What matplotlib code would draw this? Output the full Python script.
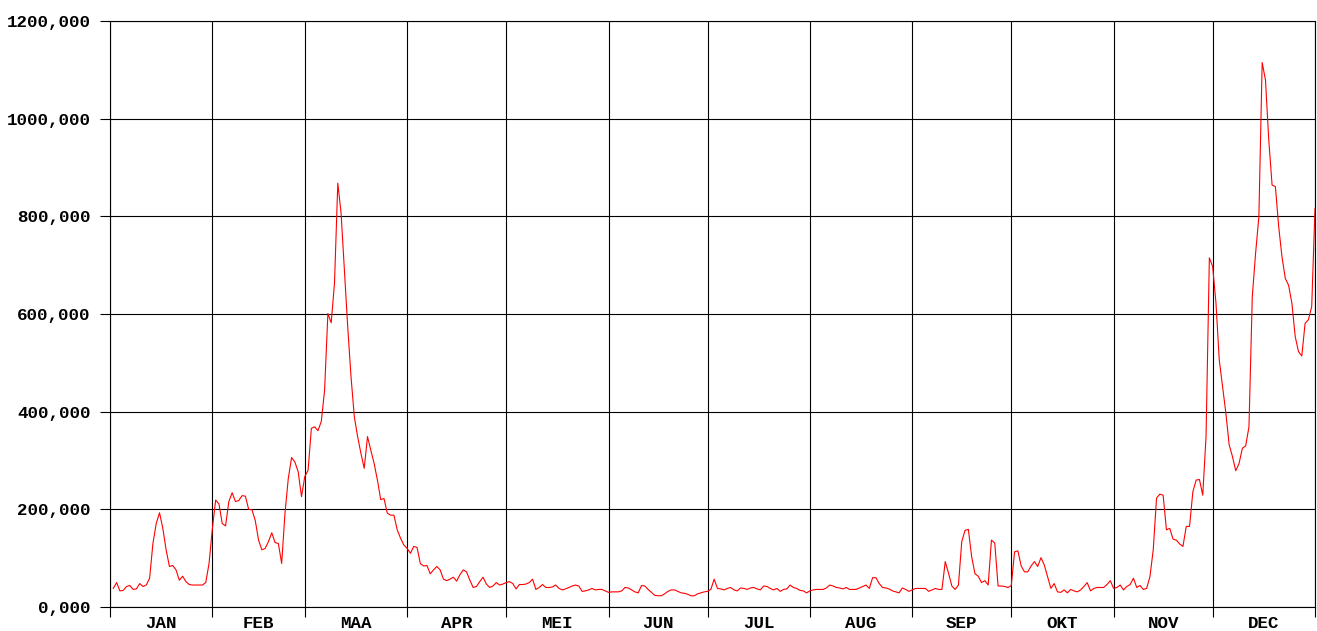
import numpy as np
import matplotlib.pyplot as plt
from matplotlib.ticker import FixedLocator, NullFormatter

# Daily values per month (in thousands)
jan = [38, 50, 33, 34, 42, 44, 36, 37, 48, 42, 45, 59, 130, 171, 193, 161, 117, 83, 85, 76,
       55, 63, 52, 46, 45, 45, 45, 45, 50, 89, 160]
feb = [219, 211, 171, 166, 216, 234, 216, 218, 228, 227, 200, 199, 177, 137, 117, 120, 134, 152,
       132, 130, 89, 192, 263, 306, 297, 277, 226, 267]
maa = [280, 366, 369, 361, 380, 444, 601, 582, 663, 868, 806, 690, 574, 472, 390, 349, 315, 284,
       349, 321, 294, 260, 220, 222, 192, 188, 188, 158, 141, 127, 120]
apr = [110, 124, 122, 89, 84, 85, 68, 76, 83, 76, 57, 54, 57, 61, 53, 66, 76, 72, 55, 40,
       42, 52, 61, 47, 40, 43, 50, 45, 47, 50]
mei = [52, 48, 37, 46, 46, 47, 50, 57, 36, 40, 46, 40, 40, 41, 45, 38, 35, 37, 40, 43,
       45, 43, 32, 33, 35, 38, 35, 36, 36, 33, 30]
jun = [31, 31, 31, 33, 40, 39, 35, 31, 29, 44, 43, 36, 30, 24, 23, 23, 27, 32, 35, 35,
       32, 29, 28, 26, 23, 23, 27, 29, 31, 32]
jul = [36, 57, 38, 37, 35, 38, 40, 35, 33, 39, 38, 36, 39, 40, 37, 35, 43, 42, 38, 35,
       38, 32, 36, 37, 45, 40, 38, 34, 33, 29, 33]
aug = [35, 36, 36, 36, 39, 45, 43, 40, 39, 37, 40, 36, 36, 36, 39, 42, 45, 38, 60, 60,
       48, 40, 39, 37, 33, 31, 29, 39, 36, 32, 35]
sep = [38, 38, 38, 38, 32, 35, 38, 36, 36, 93, 69, 43, 36, 45, 134, 157, 159, 103, 68, 63,
       50, 54, 45, 137, 131, 43, 43, 42, 40, 44]
okt = [113, 115, 84, 72, 72, 84, 93, 83, 101, 86, 62, 38, 48, 31, 30, 35, 29, 36, 33, 31,
       35, 42, 50, 33, 38, 40, 40, 40, 46, 54, 38]
nov = [40, 45, 35, 42, 46, 59, 40, 44, 36, 38, 62, 117, 223, 231, 229, 158, 161, 139, 137, 129,
       124, 165, 165, 236, 260, 261, 229, 350, 715, 697]
dec = [623, 506, 451, 397, 332, 308, 279, 294, 325, 330, 369, 635, 724, 799, 1115, 1079, 956,
       864, 861, 779, 717, 673, 659, 622, 554, 523, 514, 581, 588, 615, 816]

months = ['JAN', 'FEB', 'MAA', 'APR', 'MEI', 'JUN', 'JUL', 'AUG', 'SEP', 'OKT', 'NOV', 'DEC']
y_ticks = [0, 200, 400, 600, 800, 1000, 1200]
y_labels = ['0,000', '200,000', '400,000', '600,000', '800,000', '1000,000', '1200,000']

all_months = [jan, feb, maa, apr, mei, jun, jul, aug, sep, okt, nov, dec]
values = np.concatenate(all_months)
days = np.arange(1, len(values) + 1)

# month boundaries and centres on the day axis
lengths = [len(m) for m in all_months]
bounds = np.concatenate([[0], np.cumsum(lengths)])
centers = (bounds[:-1] + bounds[1:]) / 2

font = dict(family='Liberation Mono', weight='bold', size=12.6)

fig = plt.figure(figsize=(13.17, 6.31), dpi=100)
ax = fig.add_axes([110 / 1317, 24 / 631, 1205 / 1317, 586 / 631])

ax.plot(days, values, color='#ff0000', linewidth=0.8)

ax.set_xlim(0, bounds[-1])
ax.set_ylim(0, 1200)

# grid at month boundaries and every 200
ax.xaxis.set_major_locator(FixedLocator(bounds))
ax.xaxis.set_major_formatter(NullFormatter())
ax.xaxis.set_minor_locator(FixedLocator(centers))
ax.set_xticklabels(months, minor=True, fontdict=font)
ax.tick_params(axis='x', which='major', length=7, width=0.8, color='black')
ax.tick_params(axis='x', which='minor', length=0, pad=6.5)

ax.set_yticks(y_ticks)
ax.set_yticklabels(y_labels, fontdict=font)
ax.tick_params(axis='y', length=7, width=0.8, pad=7)

ax.grid(True, which='major', color='black', linewidth=0.8)
for spine in ax.spines.values():
    spine.set_color('black')
    spine.set_linewidth(0.8)

fig.savefig('out.png', dpi=100)
